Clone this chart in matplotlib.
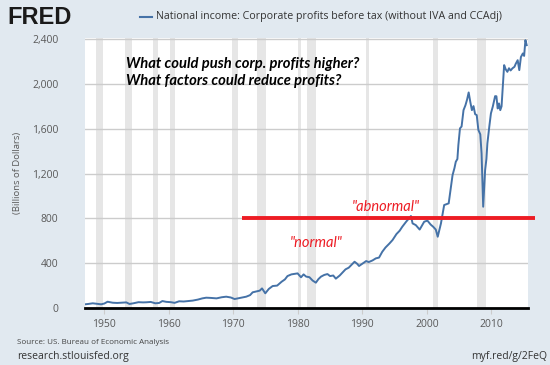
import matplotlib
matplotlib.use("Agg")
import matplotlib.pyplot as plt
from matplotlib.ticker import FuncFormatter

years = [1947.0, 1947.5, 1948.2, 1948.8, 1949.5, 1950.0, 1950.5, 1951.0, 1951.3, 1952.0,
         1952.8, 1953.4, 1953.9, 1954.5, 1955.3, 1956.0, 1956.5, 1957.2, 1957.9, 1958.5,
         1959.0, 1959.6, 1960.3, 1960.9, 1961.6, 1962.3, 1963.0, 1963.7, 1964.5, 1965.2,
         1965.8, 1966.5, 1967.4, 1968.2, 1968.9, 1969.6, 1970.2, 1970.9, 1971.5, 1972.0,
         1972.6, 1973.0, 1973.6, 1974.1, 1974.45, 1974.96, 1975.5, 1976.1, 1976.8, 1977.5,
         1978.0, 1978.4, 1979.0, 1979.5, 1979.97, 1980.5, 1980.9, 1981.3, 1981.8, 1982.3,
         1982.8, 1983.2, 1983.6, 1984.1, 1984.6, 1985.0, 1985.5, 1985.9, 1986.5, 1987.0,
         1987.4, 1987.9, 1988.4, 1988.8, 1989.2, 1989.5, 1990.0, 1990.6, 1991.0, 1991.6,
         1992.1, 1992.6, 1993.1, 1993.6, 1994.2, 1994.7, 1995.3, 1995.8, 1996.2, 1996.8,
         1997.1, 1997.55, 1997.8, 1998.3, 1998.9, 1999.6, 2000.1, 2000.6, 2001.0, 2001.4,
         2001.7, 2002.2, 2002.7, 2003.0, 2003.4, 2003.7, 2004.0, 2004.3, 2004.5, 2004.75,
         2004.9, 2005.15, 2005.4, 2005.7, 2006.0, 2006.25, 2006.5, 2006.75, 2007.0, 2007.25,
         2007.5, 2007.75, 2008.0, 2008.3, 2008.5, 2008.75, 2009.05, 2009.25, 2009.4, 2009.7,
         2009.95, 2010.25, 2010.6, 2010.8, 2011.0, 2011.2, 2011.4, 2011.6, 2011.8, 2012.0,
         2012.25, 2012.5, 2012.75, 2013.0, 2013.3, 2013.6, 2013.8, 2014.1, 2014.35, 2014.6,
         2014.9, 2015.1, 2015.3, 2015.5]
profits = [33, 36, 42, 38, 33, 40, 56, 50, 47, 45,
           48, 50, 36, 42, 52, 50, 51, 54, 42, 45,
           62, 55, 52, 46, 60, 58, 62, 66, 75, 86,
           92, 90, 86, 96, 101, 94, 80, 88, 95, 101,
           115, 140, 148, 155, 175, 131, 170, 196, 200, 235,
           255, 285, 300, 305, 309, 274, 300, 280, 275, 245,
           226, 258, 280, 295, 303, 285, 290, 262, 290, 320,
           345, 360, 390, 413, 395, 375, 395, 419, 410, 425,
           443, 450, 502, 540, 575, 607, 660, 690, 725, 770,
           790, 821, 755, 740, 700, 770, 780, 745, 725, 700,
           636, 755, 919, 925, 934, 1060, 1186, 1250, 1305, 1330,
           1454, 1603, 1620, 1766, 1810, 1860, 1924, 1840, 1766, 1802,
           1730, 1722, 1590, 1550, 1380, 904, 1231, 1330, 1469, 1620,
           1737, 1800, 1891, 1890, 1781, 1826, 1766, 1800, 1990, 2168,
           2130, 2108, 2140, 2120, 2140, 2153, 2180, 2212, 2123, 2240,
           2272, 2250, 2391, 2346]

rec_start = [1948.75, 1953.25, 1957.5, 1960.25, 1969.75, 1973.75, 1980.0, 1981.5, 1990.5, 2001.0, 2007.75]
rec_end = [1949.75, 1954.25, 1958.25, 1961.0, 1970.75, 1975.0, 1980.5, 1982.75, 1991.0, 2001.75, 2009.25]

y_ticks = [0, 400, 800, 1200, 1600, 2000, 2400]
x_ticks = [1950, 1960, 1970, 1980, 1990, 2000, 2010]
threshold = 800
threshold_span = [1971.4, 2016.8]

bg = "#e1e9f0"
fig = plt.figure(figsize=(5.5, 3.65), dpi=100, facecolor=bg)
ax = fig.add_axes([85/550, 1-308/365, (528-85)/550, (308-38)/365])
ax.set_facecolor("white")

for s, e in zip(rec_start, rec_end):
    ax.axvspan(s, e, color="#e6e6e6", lw=0, zorder=0)

ax.set_ylim(0, 2410)
ax.set_xlim(1947.0, 2015.7)
ax.set_yticks(y_ticks)
ax.set_xticks(x_ticks)
ax.yaxis.set_major_formatter(FuncFormatter(lambda v, p: f"{int(v):,}"))
ax.grid(axis="y", color="#cccccc", lw=1, zorder=1)
ax.grid(axis="x", visible=False)
for sp in ["top", "right", "left"]:
    ax.spines[sp].set_visible(False)
ax.spines["bottom"].set_color("black")
ax.spines["bottom"].set_linewidth(2)
ax.spines["bottom"].set_zorder(5)
ax.tick_params(axis="y", length=0, labelsize=7.5, labelcolor="#595959", pad=19)
ax.tick_params(axis="x", length=4, color="#cccccc", labelsize=7.5, labelcolor="#595959", pad=4)
for lab in ax.get_yticklabels():
    lab.set_fontfamily("Open Sans")
for lab in ax.get_xticklabels():
    lab.set_fontfamily("Open Sans")

ax.plot(years, profits, color="#4572a7", lw=1.4, zorder=4)

ax.plot(threshold_span, [threshold, threshold], color="#ed1c24", lw=2.8, zorder=6, clip_on=False,
        solid_capstyle="butt")

ax.text(0.093, 0.905, "What could push corp. profits higher?", transform=ax.transAxes,
        fontsize=10.6, fontweight="bold", fontstyle="italic", family="Lato", color="black", va="center")
ax.text(0.093, 0.84, "What factors could reduce profits?", transform=ax.transAxes,
        fontsize=10.6, fontweight="bold", fontstyle="italic", family="Lato", color="black", va="center")
ax.text(1993.7, 900, "\"abnormal\"", fontsize=10.5, fontstyle="italic", family="Lato",
        color="#ed1c24", ha="center", va="center")
ax.text(1982.9, 580, "\"normal\"", fontsize=10.5, fontstyle="italic", family="Lato",
        color="#ed1c24", ha="center", va="center")

fig.text(18/550, 1-173/365, "(Billions of Dollars)", rotation=90, fontsize=6.8, family="Open Sans",
         color="#595959", ha="center", va="center")

# header
fig.text(7/550, 1-17/365, "FRED", fontsize=17, fontweight="bold", family="Liberation Sans",
         color="#1a1a1a", va="center", ha="left")
fig.lines.append(plt.Line2D([140/550, 152/550], [1-17/365, 1-17/365], color="#4572a7", lw=1.5,
                            transform=fig.transFigure))
fig.text(156/550, 1-17/365, "National income: Corporate profits before tax (without IVA and CCAdj)",
         fontsize=7.7, family="Open Sans", color="#333333", va="center", ha="left")

fig.text(17/550, 1-343/365, "Source: US. Bureau of Economic Analysis", fontsize=5.8, family="Open Sans",
         color="#444444", va="center", ha="left")
fig.text(17/550, 1-357/365, "research.stlouisfed.org", fontsize=7.5, family="Open Sans",
         color="#333333", va="center", ha="left")
fig.text(547/550, 1-357/365, "myf.red/g/2FeQ", fontsize=7.5, family="Open Sans",
         color="#333333", va="center", ha="right")

fig.savefig("out.png", dpi=100, facecolor=bg)
